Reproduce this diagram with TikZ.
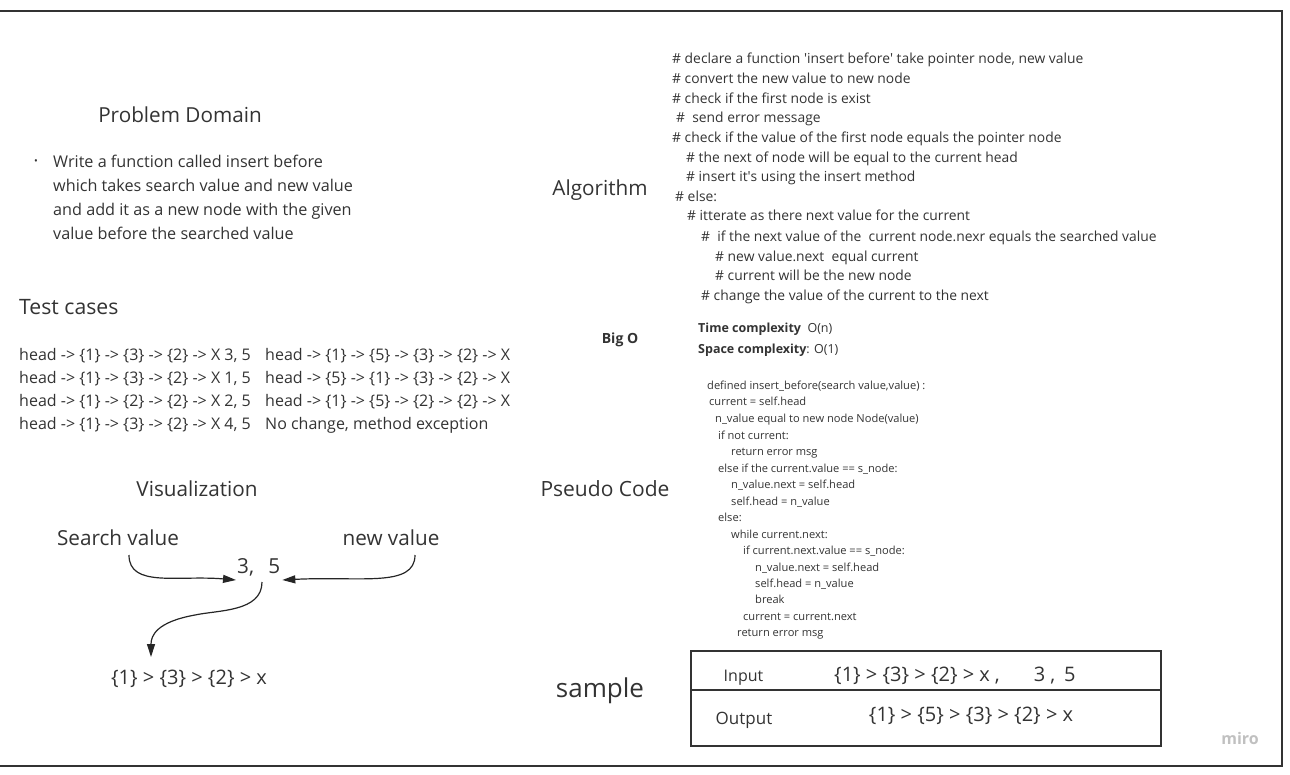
\documentclass[tikz,border=0pt]{standalone}
\usepackage{fontspec}
\setmainfont{Open Sans}
\usetikzlibrary{arrows.meta}
\definecolor{txt}{HTML}{333333}
\definecolor{framec}{HTML}{333333}
\definecolor{mirogray}{HTML}{B0B0B0}
\begin{document}
\begin{tikzpicture}[x=1pt,y=-1pt,
  every node/.style={inner sep=0pt, text=txt},
  title/.style={font=\fontsize{20.7}{24}\selectfont, anchor=base},
  body/.style={font=\fontsize{16.2}{19}\selectfont, anchor=base west},
  test/.style={font=\fontsize{16}{19}\selectfont, anchor=base west},
  algo/.style={font=\fontsize{13.85}{16}\selectfont, anchor=base west},
  cplx/.style={font=\fontsize{12.5}{15}\selectfont, anchor=base west},
  pseudo/.style={font=\fontsize{11.1}{13}\selectfont, anchor=base west},
  cellval/.style={font=\fontsize{20}{24}\selectfont},
  link/.style={-{Triangle[length=13pt,width=8pt]}, line width=1.2pt, draw=black!85}]
\useasboundingbox (0,0) rectangle (1290,774);
\draw[framec, line width=2pt] (0,11) -- (1282,11) -- (1282,766) -- (0,766);

% Problem domain
\node[title] (pd) at (180,122) {Problem Domain};
\node[font=\fontsize{10}{12}\selectfont] (bul) at (36,162) {•};
\node[body] (pd1) at (53,167.5) {Write a function called insert before};
\node[body] (pd2) at (53,191.5) {which takes search value and new value};
\node[body] (pd3) at (53,215.5) {and add it as a new node with the given};
\node[body] (pd4) at (53,239.5) {value before the searched value};

% Test cases
\node[font=\fontsize{21.2}{25}\selectfont, anchor=base west] (tc) at (19,314) {Test cases};
\node[test] (t1a) at (19,360.5) {head -> \{1\} -> \{3\} -> \{2\} -> X 3, 5};
\node[test] (t1b) at (265,360.5) {head -> \{1\} -> \{5\} -> \{3\} -> \{2\} -> X};
\node[test] (t2a) at (19,383.5) {head -> \{1\} -> \{3\} -> \{2\} -> X 1, 5};
\node[test] (t2b) at (265,383.5) {head -> \{5\} -> \{1\} -> \{3\} -> \{2\} -> X};
\node[test] (t3a) at (19,406.5) {head -> \{1\} -> \{2\} -> \{2\} -> X 2, 5};
\node[test] (t3b) at (265,406.5) {head -> \{1\} -> \{5\} -> \{2\} -> \{2\} -> X};
\node[test] (t4a) at (19,429.5) {head -> \{1\} -> \{3\} -> \{2\} -> X 4, 5};
\node[test] (t4b) at (265,429.5) {No change, method exception};

% Visualization
\node[title] (vis) at (197,496) {Visualization};
\node[title] (sv) at (118,545) {Search value};
\node[title] (nv) at (391,545) {new value};
\node[title, anchor=base west] (pair) at (237,573) {3,\ \ \,5};
\node[font=\fontsize{20}{24}\selectfont, anchor=base] (res) at (189,684) {\{1\} > \{3\} > \{2\} > x};
\coordinate (svs) at (129,555);
\coordinate (nvs) at (415,555);
\coordinate (ps) at (262,582);
\coordinate (rt) at (151,657);
\draw[link] (svs) .. controls (129,588) and (178,575) .. ([xshift=-1pt,yshift=-7pt]pair.base west);
\draw[link] (nvs) .. controls (415,588) and (360,576) .. ([xshift=2pt,yshift=-7pt]pair.base east);
\draw[link] (ps) .. controls (262,612) and (218,610) .. (195,615) .. controls (156,622) and (151,636) .. (rt);

% Algorithm
\node[title] (alg) at (600,195) {Algorithm};
\node[algo] (a1) at (672,63.8) {\# declare a function \textquotesingle insert before\textquotesingle\ take pointer node, new value};
\node[algo] (a2) at (672,83.8) {\# convert the new value to new node};
\node[algo] (a3) at (672,103.8) {\# check if the first node is exist};
\node[algo] (a4) at (676,122.8) {\#\ \ send error message};
\node[algo] (a5) at (672,142.8) {\# check if the value of the first node equals the pointer node};
\node[algo] (a6) at (686,162.8) {\# the next of node will be equal to the current head};
\node[algo] (a7) at (686,181.8) {\# insert it\textquotesingle s using the insert method};
\node[algo] (a8) at (675,201.8) {\# else:};
\node[algo] (a9) at (687,220.8) {\# itterate as there next value for the current};
\node[algo] (a10) at (701,241.8) {\#\ \ if the next value of the\ \ current node.nexr equals the searched value};
\node[algo] (a11) at (715,261.8) {\# new value.next\ \ equal current};
\node[algo] (a12) at (715,280.8) {\# current will be the new node};
\node[algo] (a13) at (701,300.8) {\# change the value of the current to the next};

% Big O
\node[font=\fontsize{14}{17}\selectfont\bfseries, anchor=base] (bigo) at (620,343) {Big O};
\node[cplx] (tcx) at (698,332.5) {\textbf{Time complexity}\ \ O(n)};
\node[cplx] (scx) at (698,353.5) {\textbf{Space complexity}: O(1)};

% Pseudo code
\node[font=\fontsize{21}{25}\selectfont, anchor=base] (psc) at (605,496) {Pseudo Code};
\node[pseudo] (p1) at (707,389) {defined insert\_before(search value,value) :};
\node[pseudo] (p2) at (709,405) {current = self.head};
\node[pseudo] (p3) at (715,422) {n\_value equal to new node Node(value)};
\node[pseudo] (p4) at (718,439) {if not current:};
\node[pseudo] (p5) at (731,455) {return error msg};
\node[pseudo] (p6) at (718,472) {else if the current.value == s\_node:};
\node[pseudo] (p7) at (731,488) {n\_value.next = self.head};
\node[pseudo] (p8) at (731,505) {self.head = n\_value};
\node[pseudo] (p9) at (718,521) {else:};
\node[pseudo] (p10) at (731,538) {while current.next:};
\node[pseudo] (p11) at (743,554) {if current.next.value == s\_node:};
\node[pseudo] (p12) at (755,571) {n\_value.next = self.head};
\node[pseudo] (p13) at (755,587) {self.head = n\_value};
\node[pseudo] (p14) at (755,603) {break};
\node[pseudo] (p15) at (743,620) {current = current.next};
\node[pseudo] (p16) at (737,636) {return error msg};

% Sample
\node[font=\fontsize{26}{31}\selectfont, anchor=base] (smp) at (600,697) {sample};
\draw[framec, line width=2pt] (691,651) rectangle (1161,746);
\draw[framec, line width=1.5pt] (691,690) -- (1161,690);
\node[font=\fontsize{16}{19}\selectfont, anchor=base] (inl) at (743.5,681.5) {Input};
\node[cellval, anchor=base west] (inv) at (834,681) {\{1\} > \{3\} > \{2\} > x\hspace{5pt},\hspace{34pt}3\hspace{5pt},\hspace{9pt}5};
\node[font=\fontsize{17}{20}\selectfont, anchor=base] (outl) at (744,724) {Output};
\node[cellval, anchor=base] (outv) at (971,721) {\{1\} > \{5\} > \{3\} > \{2\} > x};

\node[font=\fontsize{16}{19}\selectfont\bfseries, text=mirogray!80, anchor=base] (miro) at (1240,744) {miro};
\end{tikzpicture}
\end{document}
